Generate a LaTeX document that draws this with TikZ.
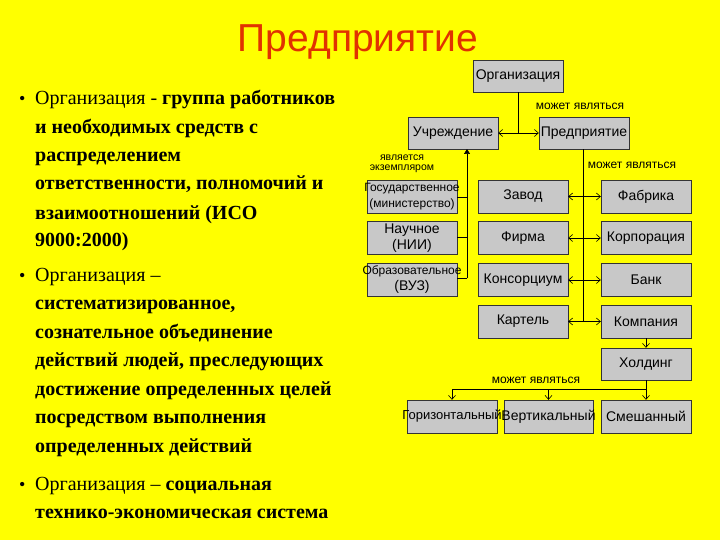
\documentclass[tikz,border=0pt]{standalone}
\usepackage{fontspec}
\setmainfont{Liberation Serif}
\newfontfamily\arialf{Liberation Sans}
\usetikzlibrary{arrows.meta}
\definecolor{bgyellow}{RGB}{255,255,0}
\definecolor{boxgray}{RGB}{200,200,200}
\definecolor{titlered}{RGB}{225,50,0}
\newcommand{\fitw}[1]{\makebox[84pt][c]{#1}}
\tikzset{
  ent/.style={draw=black!80, fill=boxgray, minimum width=90pt, minimum height=33pt, inner sep=0pt, align=center, font=\arialf\fontsize{14}{16}\selectfont},
  lbl/.style={inner sep=0pt, align=center, font=\arialf\fontsize{12}{12}\selectfont},
  con/.style={draw=black, line width=0.6pt},
  barb/.style={-{Straight Barb[length=4pt,width=7pt]}},
  dbarb/.style={{Straight Barb[length=4pt,width=7pt]}-{Straight Barb[length=4pt,width=7pt]}},
  txt/.style={anchor=base west, inner sep=0pt, font=\fontsize{20}{22}\selectfont},
  bul/.style={anchor=base west, inner sep=0pt, font=\fontsize{18}{20}\selectfont}
}
\begin{document}
\begin{tikzpicture}[x=1pt,y=-1pt]
\fill[bgyellow] (0,0) rectangle (720,540);
\useasboundingbox (0,0) rectangle (720,540);
% title
\node[anchor=base, inner sep=0pt, text=titlered, font=\arialf\fontsize{39}{42}\selectfont] (title) at (358,52) {Предприятие};
% left text
\node[bul] (b1) at (19,105) {•};
\node[txt] (l1) at (35,105) {Организация - \textbf{группа работников}};
\node[txt] (l2) at (35,134) {\textbf{и необходимых средств с}};
\node[txt] (l3) at (35,162) {\textbf{распределением}};
\node[txt] (l4) at (35,190) {\textbf{ответственности, полномочий и}};
\node[txt] (l5) at (35,219) {\textbf{взаимоотношений (ИСО}};
\node[txt] (l6) at (35,247) {\textbf{9000:2000)}};
\node[bul] (b2) at (19,281) {•};
\node[txt] (m1) at (35,281) {Организация –};
\node[txt] (m2) at (35,309) {\textbf{систематизированное,}};
\node[txt] (m3) at (35,338) {\textbf{сознательное объединение}};
\node[txt] (m4) at (35,366) {\textbf{действий людей, преследующих}};
\node[txt] (m5) at (35,395) {\textbf{достижение определенных целей}};
\node[txt] (m6) at (35,423) {\textbf{посредством выполнения}};
\node[txt] (m7) at (35,452) {\textbf{определенных действий}};
\node[bul] (b3) at (19,490) {•};
\node[txt] (n1) at (35,490) {Организация – \textbf{социальная}};
\node[txt] (n2) at (35,518) {\textbf{технико-экономическая система}};
% boxes
\node[ent, minimum height=32pt] (org) at (518,76) {Организация};
\node[ent, minimum height=32pt] (uch) at (453,133) {Учреждение};
\node[ent, minimum height=32pt] (pred) at (584,133) {Предприятие};
\node[ent] (gos) at (412,196.5) {\fitw{\fontsize{12}{14}\selectfont Государственное}\\\fitw{\fontsize{12}{14}\selectfont (министерство)}};
\node[ent] (nauch) at (412,238) {Научное\\(НИИ)};
\node[ent] (obr) at (412,280) {\fitw{\fontsize{12}{16}\selectfont Образовательное}\\(ВУЗ)};
\node[ent] (zavod) at (523,196.5) {Завод};
\node[ent] (firma) at (523,238) {Фирма};
\node[ent] (kons) at (523,280) {Консорциум};
\node[ent] (kart) at (523,321.5) {Картель};
\node[ent] (fabr) at (646,196.5) {Фабрика};
\node[ent] (korp) at (646,238) {Корпорация};
\node[ent] (bank) at (646,280) {Банк};
\node[ent] (komp) at (646,321.5) {Компания};
\node[ent, minimum height=32pt] (hold) at (646,364) {Холдинг};
\node[ent] (gor) at (452,416.5) {\fitw{\fontsize{13}{15}\selectfont Горизонтальный}};
\node[ent, minimum width=89pt] (vert) at (548.5,416.5) {\fitw{Вертикальный}};
\node[ent] (sm) at (646,416.5) {Смешанный};
% labels
\node[lbl] (lab1) at (580,106) {может являться};
\node[lbl, font=\arialf\fontsize{10.5}{10.5}\selectfont] (lab2) at (402,164) {является\\экземпляром};
\node[lbl] (lab3) at (632,165) {может являться};
\node[lbl] (lab4) at (536,380) {может являться};
% connectors
\coordinate (j1) at (org.south |- uch.east);
\draw[con] (org.south) -- (j1);
\draw[con, barb] (j1) -- (uch.east);
\draw[con, barb] (j1) -- (pred.west);
\coordinate (vtop) at (467,149);
\coordinate (vbot) at (467,278);
\draw[con, -{Triangle[length=5pt,width=6pt]}] (vbot) -- (vtop);
\draw[con] (gos.east |- 0,197) -- (467,197);
\draw[con] (nauch.east |- 0,237) -- (467,237);
\draw[con] (obr.east |- 0,278) -- (vbot);
\coordinate (pbot) at (583,321.5);
\draw[con] (pred.south -| pbot) -- (pbot);
\draw[con, dbarb] (zavod.east) -- (fabr.west);
\draw[con, dbarb] (firma.east) -- (korp.west);
\draw[con, dbarb] (kons.east) -- (bank.west);
\draw[con, dbarb] (kart.east) -- (komp.west);
\draw[con, barb] (komp.south) -- (hold.north);
\coordinate (hj) at (hold.south |- 0,389);
\coordinate (gj) at (gor.north |- 0,389);
\coordinate (vj) at (vert.north |- 0,389);
\draw[con] (hold.south) -- (hj) -- (gj);
\draw[con, barb] (gj) -- (gor.north);
\draw[con, barb] (vj) -- (vert.north);
\draw[con, barb] (hj) -- (sm.north);
\end{tikzpicture}
\end{document}
